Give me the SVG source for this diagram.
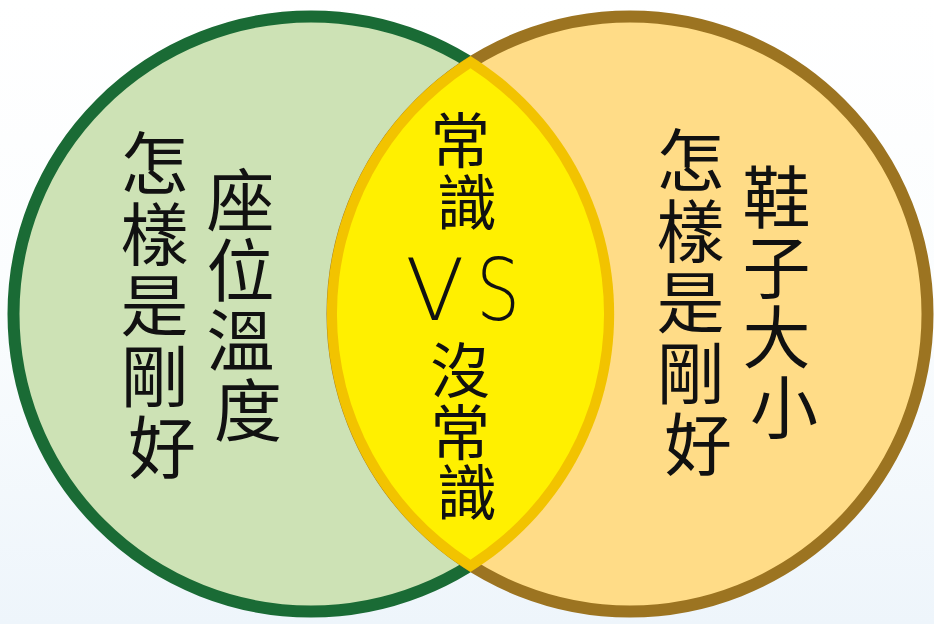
<svg xmlns="http://www.w3.org/2000/svg" width="934" height="624" viewBox="0 0 934 624">
  <defs>
    <linearGradient id="bg" x1="0" y1="0" x2="0" y2="1">
      <stop offset="0" stop-color="#FFFFFF"/>
      <stop offset="0.45" stop-color="#FBFDFE"/>
      <stop offset="1" stop-color="#EEF5FB"/>
    </linearGradient>
    <style>
      .cjk { font-family: "Noto Sans CJK TC", "Noto Sans CJK SC", sans-serif; fill: #111111; text-anchor: middle; }
      .big { font-size: 68px; }
      .mid { font-size: 60px; }
      .vs { font-family: "DejaVu Sans", "Liberation Sans", sans-serif; font-weight: 200; font-size: 86px; fill: #111111; text-anchor: middle; }
    </style>
  </defs>
  <rect x="0" y="0" width="934" height="624" fill="url(#bg)"/>

  <g id="left-circle">
    <circle cx="311" cy="314" r="297.5" fill="#CDE2B5" stroke="#1A6B35" stroke-width="12"/>
    <text class="cjk big">
      <tspan x="162" y="189">怎</tspan>
      <tspan x="162" y="260">樣</tspan>
      <tspan x="162" y="331">是</tspan>
      <tspan x="162" y="402">剛</tspan>
      <tspan x="162" y="473">好</tspan>
    </text>
    <text class="cjk big">
      <tspan x="248" y="226">座</tspan>
      <tspan x="248" y="296">位</tspan>
      <tspan x="248" y="366">溫</tspan>
      <tspan x="248" y="436">度</tspan>
    </text>
  </g>

  <g id="right-circle">
    <circle cx="630" cy="314" r="297.5" fill="#FFDC87" stroke="#9C7421" stroke-width="12"/>
    <text class="cjk big">
      <tspan x="698" y="186">怎</tspan>
      <tspan x="698" y="257">樣</tspan>
      <tspan x="698" y="328">是</tspan>
      <tspan x="698" y="399">剛</tspan>
      <tspan x="698" y="470">好</tspan>
    </text>
    <text class="cjk big">
      <tspan x="784" y="223">鞋</tspan>
      <tspan x="784" y="293">子</tspan>
      <tspan x="784" y="363">大</tspan>
      <tspan x="784" y="433">小</tspan>
    </text>
  </g>

  <g id="overlap">
    <path d="M470.5 56 A303.5 303.5 0 0 1 470.5 572 A303.5 303.5 0 0 1 470.5 56 Z" fill="#F2C300"/>
    <path d="M470.5 68.2 A293 293 0 0 1 470.5 559.8 A293 293 0 0 1 470.5 68.2 Z" fill="#FFF000"/>
    <text class="cjk mid">
      <tspan x="467" y="163">常</tspan>
      <tspan x="467" y="225">識</tspan>
    </text>
    <text class="vs" x="435" y="320">V</text>
    <text class="vs" x="498" y="320" transform="translate(498 0) scale(0.8 1) translate(-498 0)">S</text>
    <text class="cjk mid">
      <tspan x="467" y="393">沒</tspan>
      <tspan x="467" y="455">常</tspan>
      <tspan x="467" y="515">識</tspan>
    </text>
  </g>

  <g id="connectors"></g>
</svg>
